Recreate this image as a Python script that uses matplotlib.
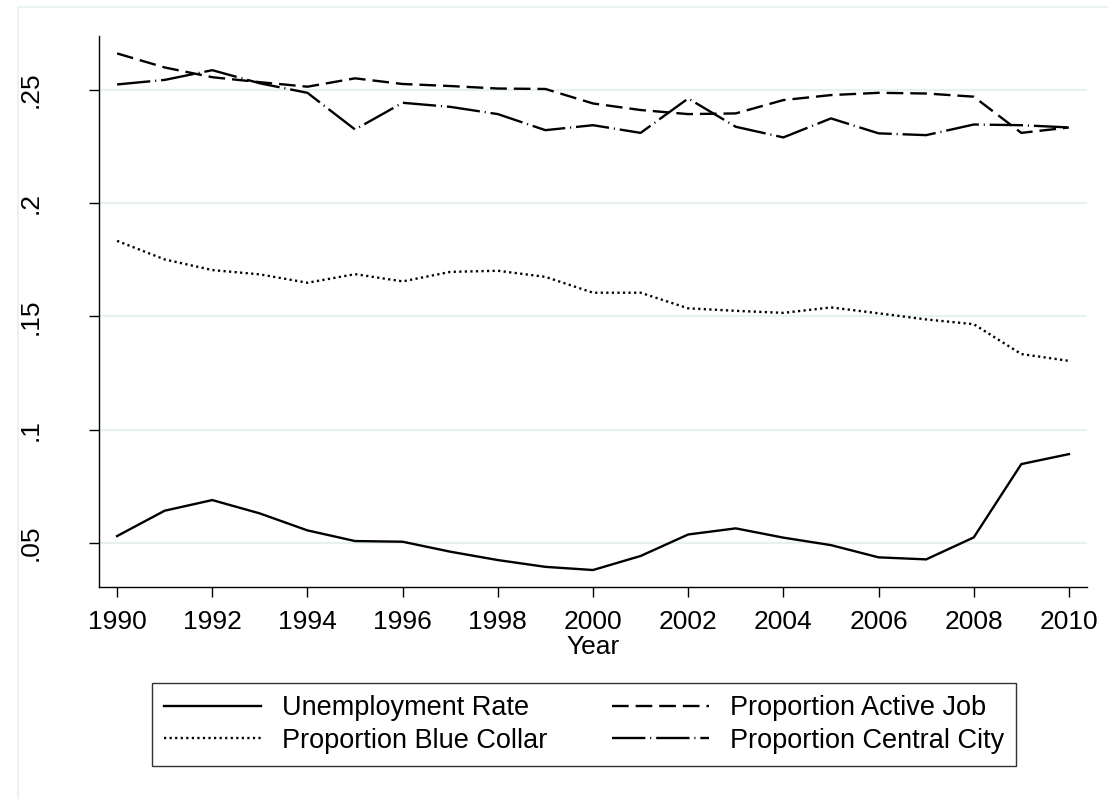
import numpy as np
import matplotlib
matplotlib.use("Agg")
import matplotlib.pyplot as plt
from matplotlib.lines import Line2D
from matplotlib.ticker import FuncFormatter

plt.rcParams["font.family"] = ["Liberation Sans", "DejaVu Sans"]
plt.rcParams["lines.scale_dashes"] = False

# Annual series, 1990-2010
years = list(range(1990, 2011))
unemployment = [0.0530, 0.0642, 0.0689, 0.0630, 0.0555, 0.0508, 0.0505,
                0.0461, 0.0424, 0.0394, 0.0380, 0.0442, 0.0537, 0.0564,
                0.0523, 0.0490, 0.0436, 0.0427, 0.0524, 0.0848, 0.0892]
active_job = [0.2662, 0.2600, 0.2557, 0.2535, 0.2515, 0.2552, 0.2527,
              0.2518, 0.2507, 0.2505, 0.2441, 0.2412, 0.2394, 0.2397,
              0.2456, 0.2478, 0.2488, 0.2485, 0.2471, 0.2311, 0.2335]
blue_collar = [0.1834, 0.1752, 0.1705, 0.1686, 0.1649, 0.1687, 0.1655,
               0.1697, 0.1702, 0.1675, 0.1605, 0.1605, 0.1536, 0.1525,
               0.1516, 0.1540, 0.1514, 0.1487, 0.1466, 0.1334, 0.1304]
central_city = [0.2525, 0.2545, 0.2588, 0.2530, 0.2488, 0.2326, 0.2444,
                0.2426, 0.2394, 0.2323, 0.2345, 0.2311, 0.2463, 0.2338,
                0.2291, 0.2375, 0.2309, 0.2301, 0.2348, 0.2345, 0.2335]

y_ticks = [0.05, 0.1, 0.15, 0.2, 0.25]
x_ticks = list(range(1990, 2011, 2))

fig = plt.figure(figsize=(11.08, 7.99), dpi=100)
ax = fig.add_axes([99 / 1108, 1 - 587 / 799, 988 / 1108, 551 / 799])

lw = 1.7
ax.plot(years, unemployment, color="black", lw=lw, ls="-",
        label="Unemployment Rate")
ax.plot(years, active_job, color="black", lw=lw, ls=(0, (12, 5)),
        label="Proportion Active Job")
ax.plot(years, blue_collar, color="black", lw=lw, ls=(0, (1.6, 2.4)),
        label="Proportion Blue Collar")
ax.plot(years, central_city, color="black", lw=lw, ls=(0, (24, 3.5, 0.8, 3.5)),
        label="Proportion Central City")

ax.set_xlim(1989.62, 2010.38)
ax.set_ylim(0.0305, 0.2739)
ax.set_xticks(x_ticks)
ax.set_yticks(y_ticks)
ax.yaxis.set_major_formatter(FuncFormatter(lambda v, p: ("%g" % v).lstrip("0")))
ax.grid(axis="y", color="#e8f0f2", lw=1.6)
ax.set_axisbelow(True)

for side in ["top", "right"]:
    ax.spines[side].set_visible(False)
for side in ["left", "bottom"]:
    ax.spines[side].set_linewidth(1.0)

ax.tick_params(axis="both", length=7.5, width=1.0, labelsize=19)
ax.tick_params(axis="x", pad=9)
ax.tick_params(axis="y", pad=33)
for lab in ax.get_yticklabels():
    lab.set_rotation(90)
    lab.set_va("center")

ax.set_xlabel("Year", fontsize=19, labelpad=1)

# legend order: two columns, filled column-wise
h, l = ax.get_legend_handles_labels()
order = [0, 2, 1, 3]
leg = fig.legend([h[i] for i in order], [l[i] for i in order],
                 loc="upper center", bbox_to_anchor=(0.527, 1 - 683 / 799),
                 ncol=2, fontsize=19.5, frameon=True, fancybox=False,
                 handlelength=3.6, handletextpad=0.75, columnspacing=2.4,
                 labelspacing=0.25, borderpad=0.45, borderaxespad=0)
leg.get_frame().set_edgecolor("black")
leg.get_frame().set_linewidth(1.0)

# faint outer region border
fig.add_artist(Line2D([18 / 1108, 1], [1 - 7 / 799, 1 - 7 / 799],
                      transform=fig.transFigure, color="#e8f0f2", lw=1.2))
fig.add_artist(Line2D([18 / 1108, 18 / 1108], [0, 1 - 7 / 799],
                      transform=fig.transFigure, color="#e8f0f2", lw=1.2))

fig.savefig("out.png", dpi=100)
